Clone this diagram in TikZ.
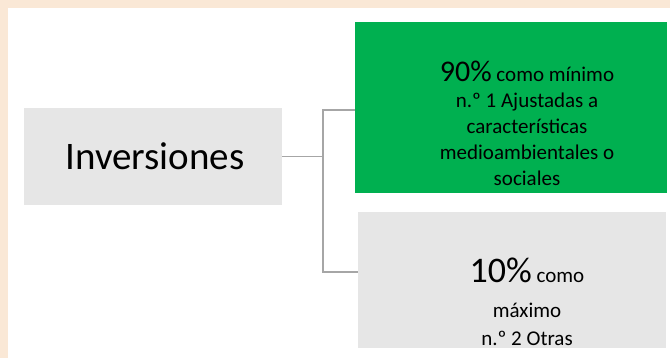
\documentclass[tikz,border=0pt]{standalone}
\usepackage{fontspec}
\setmainfont{Carlito}
\definecolor{beige}{HTML}{FAE8D6}
\definecolor{boxgray}{HTML}{E6E6E6}
\definecolor{boxgreen}{HTML}{00B050}
\definecolor{linegray}{HTML}{A6A6A6}
\tikzset{
  box/.style={draw=none, inner sep=0pt, minimum width=#1, anchor=north west},
  conn/.style={draw=linegray, line width=1.5pt},
  txt/.style={align=center, inner sep=0pt, text=black}
}
\begin{document}
\begin{tikzpicture}[x=1pt,y=-1pt]
\useasboundingbox (0,0) rectangle (670,358);
\fill[beige] (0,0) rectangle (670,358);
\fill[white] (8,8) rectangle (670,358);
% boxes
\node[box=258pt, fill=boxgray, minimum height=97pt] (inv) at (24,108) {};
\node[box=312pt, fill=boxgreen, minimum height=171pt] (green) at (355,22) {};
\node[box=308pt, fill=boxgray, minimum height=136pt] (gray) at (358,212) {};
% texts
\node[txt, font=\fontsize{39}{44}\selectfont] (invt) at (155,156) {Inversiones};
\node[txt, font=\fontsize{21}{26}\selectfont] (greent) at (527,123)
  {{\fontsize{30}{28}\selectfont 90\%} como mínimo\\n.º 1 Ajustadas a\\características\\medioambientales o\\sociales};
\node[txt, font=\fontsize{21}{28}\selectfont] (grayt) at (527,301.5)
  {{\fontsize{36}{37}\selectfont 10\%} como\\[7pt]máximo\\n.º 2 Otras};
% connectors
\coordinate (j1) at (323,110);
\coordinate (j2) at (323,272);
\draw[conn] (inv.east) -- (inv.east -| j1);
\draw[conn] (green.west |- j1) -- (j1) -- (j2) -- (gray.west |- j2);
\end{tikzpicture}
\end{document}
